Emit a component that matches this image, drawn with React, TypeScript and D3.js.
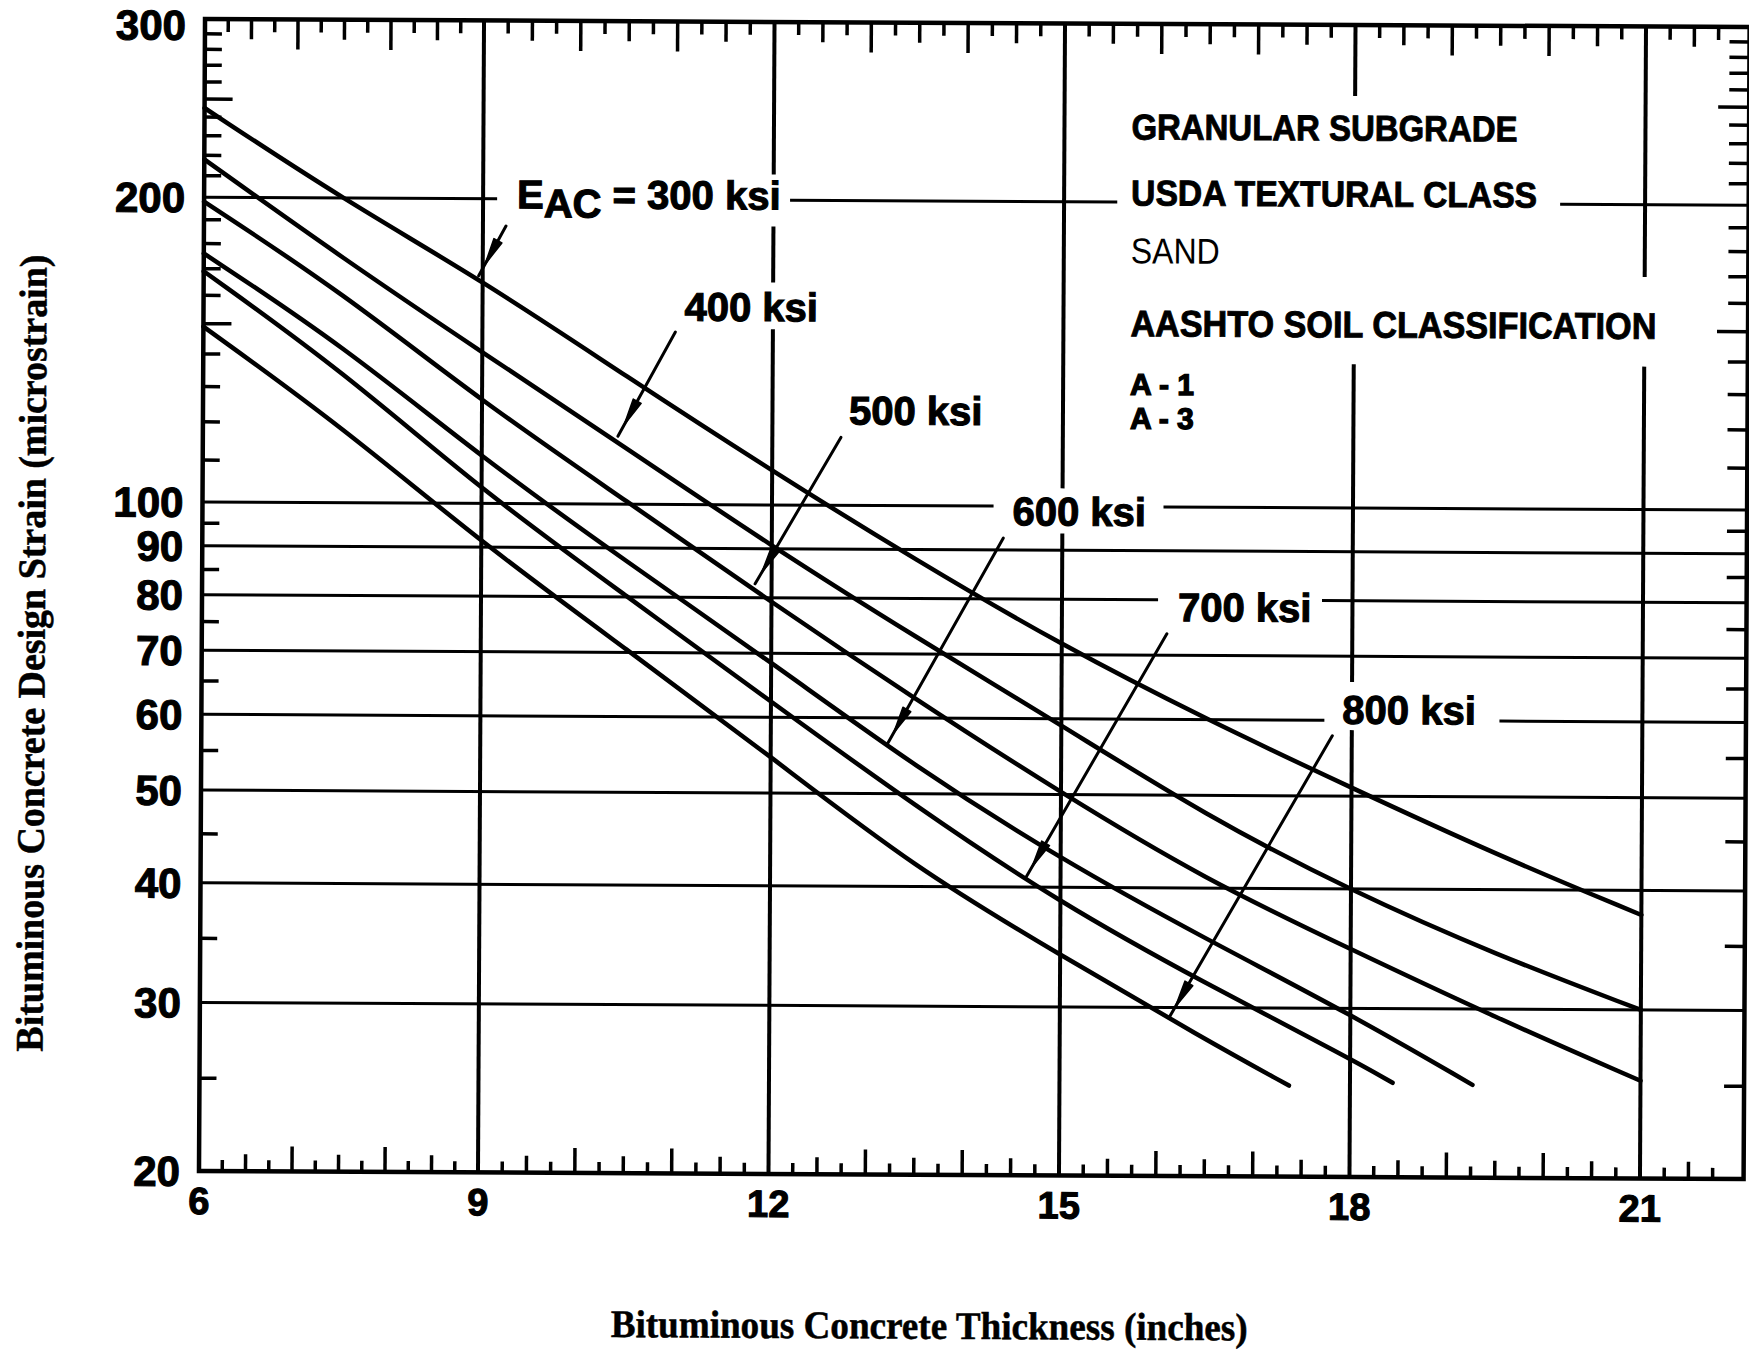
import React from "react";
import * as d3 from "d3";

// ---------------- data ----------------
const THICKNESS = [6, 7.5, 9, 10.5, 12, 13.5, 15, 16.5, 18, 19.5, 21];

const E300_X = THICKNESS;
const E300_Y = [245, 199.2, 166, 133.5, 108, 87.6, 71.6, 60.0, 51, 43.5, 37.7];
const E400_X = THICKNESS;
const E400_Y = [218, 174.2, 141, 113.5, 90.5, 72.8, 59.1, 47.6, 39.8, 34.2, 30.0];
const E500_X = THICKNESS;
const E500_Y = [198, 161.1, 126, 100.7, 79.1, 62.7, 50.2, 40.8, 34.6, 29.4, 25.3];
const E600_X = [6, 7.5, 9, 10.5, 12, 13.5, 15, 16.5, 18, 19.265];
const E600_Y = [176, 143, 111, 87.1, 68.5, 53.3, 42.8, 35.4, 29.6, 25.0];
const E700_X = [6, 7.5, 9, 10.5, 12, 13.5, 15, 16.5, 18, 18.44];
const E700_Y = [169, 134.9, 103, 80.2, 62.3, 48.5, 38.5, 31.8, 26.6, 25.1];
const E800_X = [6, 7.5, 9, 10.5, 12, 13.5, 15, 16.5, 17.37];
const E800_Y = [149, 118.8, 91, 70.6, 54.6, 41.8, 34.0, 27.8, 24.9];

const CURVES_X = [E300_X, E400_X, E500_X, E600_X, E700_X, E800_X];
const CURVES_Y = [E300_Y, E400_Y, E500_Y, E600_Y, E700_Y, E800_Y];

// curve labels and their leader arrows, in data units
const LABEL_TEXT = ["300 ksi", "400 ksi", "500 ksi", "600 ksi", "700 ksi", "800 ksi"];
const LABEL_X = [9.351, 11.086, 12.79, 14.484, 16.198, 17.902];
const LABEL_Y = [195.8, 151.9, 120.2, 95.5, 76.0, 59.5];
const ARROW_FROM_X = [9.238, 10.993, 12.708, 14.391, 16.085, 17.799];
const ARROW_FROM_Y = [188, 148, 116.7, 92.6, 73.7, 57.8];
const ARROW_TO_X = [8.957, 10.405, 11.83, 13.203, 14.639, 16.126];
const ARROW_TO_Y = [167.8, 116.7, 82.7, 56.3, 40.9, 29.25];

// notes block
const NOTE_LINES = [
  "GRANULAR SUBGRADE",
  "USDA TEXTURAL CLASS",
  "SAND",
  "AASHTO SOIL CLASSIFICATION",
];
const NOTE_CLASSES = ["A - 1", "A - 3"];
const NOTE_X = 15.692;
const NOTE_Y = [230.6, 198.5, 174.0, 147.4];
const NOTE_CLASSES_Y = 129.0;

// axes
const X_MIN = 6;
const X_MAX = 22.07;
const Y_MIN = 20;
const Y_MAX = 300;
const X_GRID = [9, 12, 15, 18, 21];
const X_TICK_LABELS = [6, 9, 12, 15, 18, 21];
const Y_GRID = [30, 40, 50, 60, 70, 80, 90, 100, 200];
const Y_TICK_LABELS = [300, 200, 100, 90, 80, 70, 60, 50, 40, 30, 20];
const Y_MINOR = [25, 35, 45, 55, 65, 75, 85, 95, 110, 120, 130, 140, 160, 170, 180, 190, 210, 220, 230, 240, 260, 270, 280, 290];
const Y_MINOR_LONG = [150, 250];

// gaps in grid lines where the labels sit (data units)
const GRID_Y_GAPS: Record<number, [number, number][]> = {
  200: [[9.145, 12.17], [15.549, 20.123]],
  100: [[14.288, 16.043]],
  80: [[15.992, 17.685]],
  60: [[17.716, 19.524]],
};
const GRID_X_GAPS: Record<number, [number, number][]> = {
  12: [[149.1, 165.9], [188.4, 212]],
  15: [[93.7, 104.2]],
  18: [[58.6, 65.8], [138.7, 255.3]],
  21: [[138.4, 169.7]],
};

const X_TITLE = "Bituminous Concrete Thickness (inches)";
const Y_TITLE = "Bituminous Concrete Design Strain (microstrain)";

// ---------------- styles ----------------
const SANS = "'Liberation Sans', Arial, Helvetica, sans-serif";
const SERIF = "'Liberation Serif', 'Times New Roman', serif";
const NOTE_STYLE = [
  { size: 36, weight: 700, len: 386, stroke: 0.9 },
  { size: 36, weight: 700, len: 406, stroke: 0.9 },
  { size: 36, weight: 400, len: 89, stroke: 0 },
  { size: 37, weight: 700, len: 526, stroke: 0.9 },
];
const SCAN_TILT = 0.3; // degrees, the scanned page is slightly rotated

function segments(lo: number, hi: number, gaps: [number, number][] = []) {
  const out: [number, number][] = [];
  let s = lo;
  const sorted = [...gaps].sort((a, b) => a[0] - b[0]);
  for (const [a, b] of sorted) {
    out.push([s, a]);
    s = b;
  }
  out.push([s, hi]);
  return out;
}

export default function App() {
  const W = 1749;
  const H = 1351;
  const x = d3.scaleLinear().domain([6, 9, 21]).range([202, 481, 1643]);
  const y = d3.scaleLog().domain([20, 100, 300]).range([1175, 506, 23]);

  const xL = x(X_MIN);
  const xR = x(X_MAX);
  const yT = y(Y_MAX);
  const yB = y(Y_MIN);
  const cx = (xL + xR) / 2;
  const cy = (yT + yB) / 2;

  const line = d3
    .line<[number, number]>()
    .x((d) => x(d[0]))
    .y((d) => y(d[1]))
    .curve(d3.curveBasis);

  const xMinor = d3.range(X_MIN + 0.25, X_MAX - 0.1, 0.25).filter((v) => Math.abs(v % 3) > 1e-6);

  const tickLenX = (v: number, top: boolean) => {
    const frac = v % 1;
    if (Math.abs(frac) < 1e-6) return top ? 30 : 25;
    if (Math.abs(frac - 0.5) < 1e-6) return top ? 20 : 17;
    return top ? 13 : 11;
  };

  const arrowHead = (sx: number, sy: number, tx: number, ty: number) => {
    const dx = tx - sx;
    const dy = ty - sy;
    const L = Math.hypot(dx, dy);
    const ux = dx / L;
    const uy = dy / L;
    const px = -uy;
    const py = ux;
    const ax = tx - ux * 13;
    const ay = ty - uy * 13;
    const bx = tx - ux * 40;
    const by = ty - uy * 40;
    const hw = 4.5;
    return `M${ax},${ay} L${bx + px * hw},${by + py * hw} L${bx - px * hw},${by - py * hw} Z`;
  };

  const heavy = { stroke: "#000", strokeWidth: 1.1, paintOrder: "stroke" as const };
  const Y_LABEL_SIZE = 42;
  // baseline of a y tick label, kept inside the page at the top
  const yLabelBase = (v: number) => Math.max(y(v) + 0.36 * Y_LABEL_SIZE, 44);

  return (
    <svg
      width={W}
      height={H}
      viewBox={`0 0 ${W} ${H}`}
      style={{ position: "absolute", left: 0, top: 0, background: "#fff" }}
    >
      <rect x={0} y={0} width={W} height={H} fill="#fff" />
      <g transform={`rotate(${SCAN_TILT}, ${cx}, ${cy})`}>
        {/* horizontal grid lines */}
        {Y_GRID.map((v) =>
          segments(X_MIN, X_MAX, GRID_Y_GAPS[v]).map(([a, b], i) => (
            <line key={`hg${v}-${i}`} x1={x(a)} x2={x(b)} y1={y(v)} y2={y(v)} stroke="#000" strokeWidth={3} />
          ))
        )}

        {/* vertical grid lines */}
        {X_GRID.map((v) =>
          segments(Y_MIN, Y_MAX, GRID_X_GAPS[v]).map(([a, b], i) => (
            <line key={`vg${v}-${i}`} x1={x(v)} x2={x(v)} y1={y(a)} y2={y(b)} stroke="#000" strokeWidth={4} />
          ))
        )}

        {/* x minor ticks, top and bottom */}
        {xMinor.map((v) => (
          <g key={`xt${v}`}>
            <line x1={x(v)} x2={x(v)} y1={yT} y2={yT + tickLenX(v, true)} stroke="#000" strokeWidth={3.5} />
            <line x1={x(v)} x2={x(v)} y1={yB} y2={yB - tickLenX(v, false)} stroke="#000" strokeWidth={3.5} />
          </g>
        ))}

        {/* y minor ticks, left and right */}
        {[...Y_MINOR, ...Y_MINOR_LONG].map((v) => {
          const len = Y_MINOR_LONG.includes(v) ? 28 : 17;
          return (
            <g key={`yt${v}`}>
              <line x1={xL} x2={xL + len} y1={y(v)} y2={y(v)} stroke="#000" strokeWidth={3.5} />
              <line x1={xR} x2={xR - len - 3} y1={y(v)} y2={y(v)} stroke="#000" strokeWidth={3.5} />
            </g>
          );
        })}

        {/* frame */}
        <rect x={xL} y={yT} width={xR - xL} height={yB - yT} fill="none" stroke="#000" strokeWidth={4.5} />

        {/* curves */}
        {CURVES_X.map((xs, k) => (
          <path
            key={`c${k}`}
            d={line(xs.map((t, i) => [t, CURVES_Y[k][i]] as [number, number])) || ""}
            fill="none"
            stroke="#000"
            strokeWidth={4.5}
            strokeLinecap="round"
            strokeLinejoin="round"
          />
        ))}

        {/* leader arrows */}
        {ARROW_FROM_X.map((fx, k) => {
          const sx = x(fx);
          const sy = y(ARROW_FROM_Y[k]);
          const tx = x(ARROW_TO_X[k]);
          const ty = y(ARROW_TO_Y[k]);
          return (
            <g key={`a${k}`}>
              <line x1={sx} y1={sy} x2={tx} y2={ty} stroke="#000" strokeWidth={3} strokeLinecap="round" />
              <path d={arrowHead(sx, sy, tx, ty)} fill="#000" stroke="#000" strokeWidth={1.5} strokeLinejoin="round" />
            </g>
          );
        })}

        {/* curve labels */}
        {LABEL_TEXT.map((t, k) =>
          k === 0 ? (
            <text
              key={`l${k}`}
              x={x(LABEL_X[k])}
              y={y(LABEL_Y[k])}
              fontFamily={SANS}
              fontWeight={700}
              fontSize={40}
              fill="#000"
              {...heavy}
            >
              <tspan>E</tspan>
              <tspan dy={9}>AC</tspan>
              <tspan dy={-9}>{` = ${t}`}</tspan>
            </text>
          ) : (
            <text
              key={`l${k}`}
              x={x(LABEL_X[k])}
              y={y(LABEL_Y[k])}
              fontFamily={SANS}
              fontWeight={700}
              fontSize={40}
              fill="#000"
              {...heavy}
            >
              {t}
            </text>
          )
        )}

        {/* notes */}
        {NOTE_LINES.map((t, k) => (
          <text
            key={`n${k}`}
            x={x(NOTE_X)}
            y={y(NOTE_Y[k])}
            fontFamily={SANS}
            fontWeight={NOTE_STYLE[k].weight}
            fontSize={NOTE_STYLE[k].size}
            textLength={NOTE_STYLE[k].len}
            lengthAdjust="spacingAndGlyphs"
            fill="#000"
            stroke="#000"
            strokeWidth={NOTE_STYLE[k].stroke}
          >
            {t}
          </text>
        ))}
        <text
          x={x(NOTE_X)}
          y={y(NOTE_CLASSES_Y)}
          fontFamily={SANS}
          fontWeight={700}
          fontSize={30}
          fill="#000"
          stroke="#000"
          strokeWidth={1.3}
        >
          {NOTE_CLASSES.map((t, i) => (
            <tspan key={t} x={x(NOTE_X)} dy={i === 0 ? 0 : 34}>
              {t}
            </tspan>
          ))}
        </text>

        {/* y tick labels */}
        {Y_TICK_LABELS.map((v) => (
          <text
            key={`yl${v}`}
            x={xL - 19}
            y={yLabelBase(v)}
            textAnchor="end"
            fontFamily={SANS}
            fontWeight={700}
            fontSize={Y_LABEL_SIZE}
            fill="#000"
            {...heavy}
          >
            {v}
          </text>
        ))}

        {/* x tick labels */}
        {X_TICK_LABELS.map((v) => (
          <text
            key={`xl${v}`}
            x={x(v)}
            y={yB + 43}
            textAnchor="middle"
            fontFamily={SANS}
            fontWeight={700}
            fontSize={38}
            fill="#000"
            {...heavy}
          >
            {v}
          </text>
        ))}

        {/* axis titles */}
        <text
          x={933}
          y={1339}
          textAnchor="middle"
          fontFamily={SERIF}
          fontWeight={700}
          fontSize={39}
          textLength={637}
          lengthAdjust="spacingAndGlyphs"
          fill="#000"
          stroke="#000"
          strokeWidth={0.5}
        >
          {X_TITLE}
        </text>
        <text
          transform={`translate(45, 658) rotate(-90)`}
          textAnchor="middle"
          fontFamily={SERIF}
          fontWeight={700}
          fontSize={39}
          textLength={797}
          lengthAdjust="spacingAndGlyphs"
          fill="#000"
          stroke="#000"
          strokeWidth={0.5}
        >
          {Y_TITLE}
        </text>
      </g>
    </svg>
  );
}
